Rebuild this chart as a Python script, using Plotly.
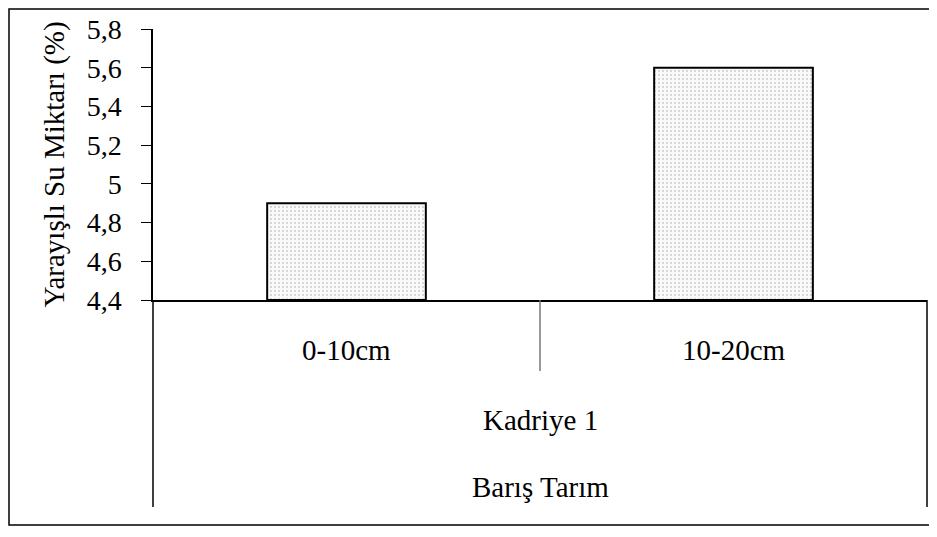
import plotly.graph_objects as go

categories = ["0-10cm", "10-20cm"]
values = [4.9, 5.6]
group_label = "Kadriye 1"
outer_label = "Barış Tarım"
y_title = "Yarayışlı Su Miktarı (%)"
y_ticks = [4.4, 4.6, 4.8, 5.0, 5.2, 5.4, 5.6, 5.8]
y_ticktext = ["4,4", "4,6", "4,8", "5", "5,2", "5,4", "5,6", "5,8"]
y_min, y_max = 4.4, 5.8

FONT = "Liberation Serif, Times New Roman, serif"
W, H = 921, 521
L, R, T, B = 145, 2, 21, 229
PW, PH = W - L - R, H - T - B

fig = go.Figure(go.Bar(
    x=categories, y=[v - y_min for v in values],
    base=y_min,
    marker=dict(
        color="white",
        line=dict(color="black", width=2),
        pattern=dict(shape=".", fgcolor="#a0a0a0", bgcolor="#f9f9f9", size=4, solidity=0.2),
    ),
    width=0.41,
    hovertext=[str(v) for v in values],
))

fig.update_layout(
    width=W, height=H,
    margin=dict(l=L, r=R, t=T, b=B),
    paper_bgcolor="white", plot_bgcolor="white",
    font=dict(family=FONT, size=29, color="black"),
    showlegend=False,
    xaxis=dict(
        type="category", range=[-0.5, 1.5],
        showline=True, linecolor="black", linewidth=1.5,
        showticklabels=False, ticks="", showgrid=False,
    ),
    yaxis=dict(
        range=[y_min, y_max], tickvals=y_ticks, ticktext=y_ticktext,
        ticks="outside", ticklen=10, tickcolor="black",
        ticklabelstandoff=14,
        showline=True, linecolor="black", linewidth=1.5,
        showgrid=False, zeroline=False,
        tickfont=dict(family=FONT, size=28),
        title=dict(text=y_title, font=dict(family=FONT, size=29), standoff=14),
    ),
)

for c in categories:
    fig.add_annotation(x=c, xref="x", y=-50 / PH, yref="paper", yanchor="middle", text=c,
                       showarrow=False, font=dict(family=FONT, size=29))
fig.add_annotation(x=0.5, xref="paper", y=-120 / PH, yref="paper", yanchor="middle",
                   text=group_label, showarrow=False, font=dict(family=FONT, size=29))
fig.add_annotation(x=0.5, xref="paper", y=-187 / PH, yref="paper", yanchor="middle",
                   text=outer_label, showarrow=False, font=dict(family=FONT, size=29))

fig.add_shape(type="line", xref="paper", yref="paper", x0=0, x1=0, y0=0, y1=-207 / PH,
              line=dict(color="black", width=1.5))
fig.add_shape(type="line", xref="paper", yref="paper", x0=1, x1=1, y0=0, y1=-207 / PH,
              line=dict(color="black", width=1.5))
fig.add_shape(type="line", xref="x", yref="paper", x0=0.5, x1=0.5, y0=0, y1=-71 / PH,
              line=dict(color="#777777", width=1.5))

fig.add_shape(type="rect", xref="paper", yref="paper",
              x0=(1 - L) / PW, x1=(W + 10 - L) / PW,
              y0=-(B - 4) / PH, y1=1 + (T - 1) / PH,
              line=dict(color="black", width=1.5))

fig.write_html("out.html")
